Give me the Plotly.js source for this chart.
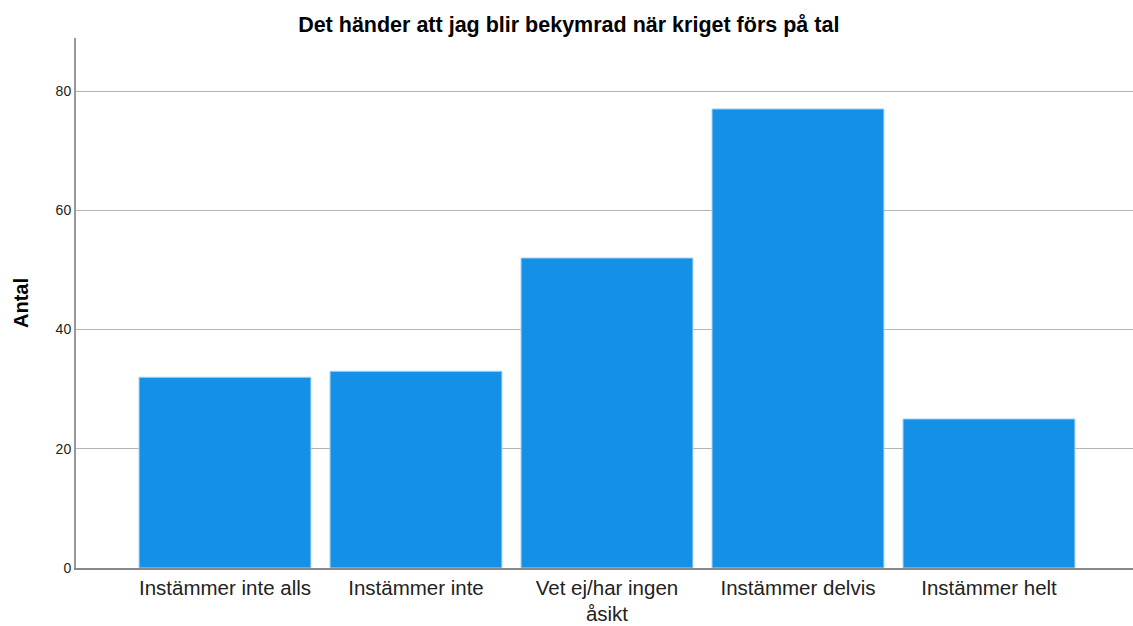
<!DOCTYPE html>
<html>
<head>
<meta charset="utf-8">
<script src="https://cdn.plot.ly/plotly-3.0.1.min.js"></script>
<style>html,body{margin:0;padding:0;background:#fff;}#chart{width:1133px;height:626px;}</style>
</head>
<body>
<div id="chart"></div>
<script>
const categories = ["Instämmer inte alls", "Instämmer inte", "Vet ej/har ingen<br>åsikt", "Instämmer delvis", "Instämmer helt"];
const counts = [32, 33, 52, 77, 25];
const yTicks = [0, 20, 40, 60, 80];

const font = "Liberation Sans, Arial, sans-serif";
Plotly.newPlot("chart", [{
  type: "bar",
  x: categories,
  y: counts,
  width: 0.9,
  marker: {color: "#1491E6", line: {color: "#a8d3f3", width: 1}},
  hoverinfo: "x+y"
}], {
  width: 1133, height: 626,
  margin: {l: 76, r: 0, t: 38, b: 58},
  paper_bgcolor: "#fff", plot_bgcolor: "#fff",
  showlegend: false,
  title: {text: "<b>Det händer att jag blir bekymrad när kriget förs på tal</b>", x: 0.502, xanchor: "center", y: 0.973, yanchor: "top",
          font: {family: font, size: 21.5, color: "#000"}},
  xaxis: {
    type: "category", range: [-0.78, 4.754],
    showgrid: false, showline: true, linecolor: "#888", linewidth: 2,
    ticks: "", tickfont: {family: font, size: 20.5, color: "#222"},
    fixedrange: true
  },
  yaxis: {
    range: [0, 88.9], tickvals: yTicks, ticktext: yTicks.map(String),
    showgrid: true, gridcolor: "#b4b4b4", gridwidth: 1,
    showline: true, linecolor: "#999", linewidth: 2,
    ticks: "", zeroline: false,
    tickfont: {family: font, size: 14, color: "#222"},
    title: {text: "<b>Antal</b>", font: {family: font, size: 20, color: "#000"}, standoff: 22},
    fixedrange: true
  }
}, {displayModeBar: false, staticPlot: true});
</script>
</body>
</html>
